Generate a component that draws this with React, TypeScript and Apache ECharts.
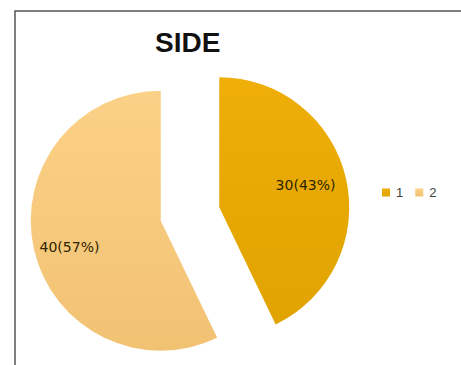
import React, { useEffect, useRef } from "react";
import * as echarts from "echarts";

const categories = ["1", "2"];
const values = [30, 40];
const percents = ["43%", "57%"];
const titleText = "SIDE";

export default function App() {
  const ref = useRef<HTMLDivElement>(null);
  useEffect(() => {
    document.body.style.margin = "0";
    const chart = echarts.init(ref.current!, null, { renderer: "svg" });
    const colors = [
      new echarts.graphic.LinearGradient(0, 0, 0, 1, [
        { offset: 0, color: "#EFAE08" },
        { offset: 1, color: "#E0A300" },
      ]),
      new echarts.graphic.LinearGradient(0, 0, 0, 1, [
        { offset: 0, color: "#FBD187" },
        { offset: 1, color: "#F2C273" },
      ]),
    ];
    chart.setOption({
      animation: false,
      backgroundColor: "#ffffff",
      title: {
        text: titleText,
        left: 150,
        top: 23,
        textStyle: {
          fontFamily: "Liberation Sans",
          fontWeight: "bold",
          fontSize: 28,
          color: "#111111",
        },
      },
      legend: {
        data: categories,
        left: 377,
        top: 181,
        orient: "horizontal",
        itemWidth: 8,
        itemHeight: 8,
        itemGap: 12,
        icon: "rect",
        textStyle: {
          fontFamily: "Liberation Sans",
          fontSize: 13,
          color: "#404040",
          padding: [0, 0, 0, 1],
        },
        selectedMode: false,
      },
      graphic: [
        {
          type: "rect",
          shape: { x: 15, y: 11, width: 470, height: 380 },
          style: { fill: "none", stroke: "#555555", lineWidth: 1.5 },
          silent: true,
          z: 100,
        },
      ],
      series: [
        {
          type: "pie",
          center: [190, 214],
          radius: 130,
          startAngle: 90,
          clockwise: true,
          selectedMode: "multiple",
          selectedOffset: 30,
          avoidLabelOverlap: false,
          label: {
            show: true,
            position: "inside",
            fontFamily: "DejaVu Sans",
            fontSize: 14,
            color: "#2e2400",
            formatter: (p: any) => `${p.value}(${percents[p.dataIndex]})`,
          },
          labelLayout: (p: any) =>
            p.dataIndex === 0 ? { dx: 20, dy: -7 } : { dx: -25, dy: 11 },
          labelLine: { show: false },
          emphasis: { disabled: true },
          select: { itemStyle: {} },
          data: categories.map((c, i) => ({
            name: c,
            value: values[i],
            selected: true,
            itemStyle: { color: colors[i] },
          })),
        },
      ],
    });
    return () => chart.dispose();
  }, []);
  return <div ref={ref} style={{ width: 461, height: 365 }} />;
}
